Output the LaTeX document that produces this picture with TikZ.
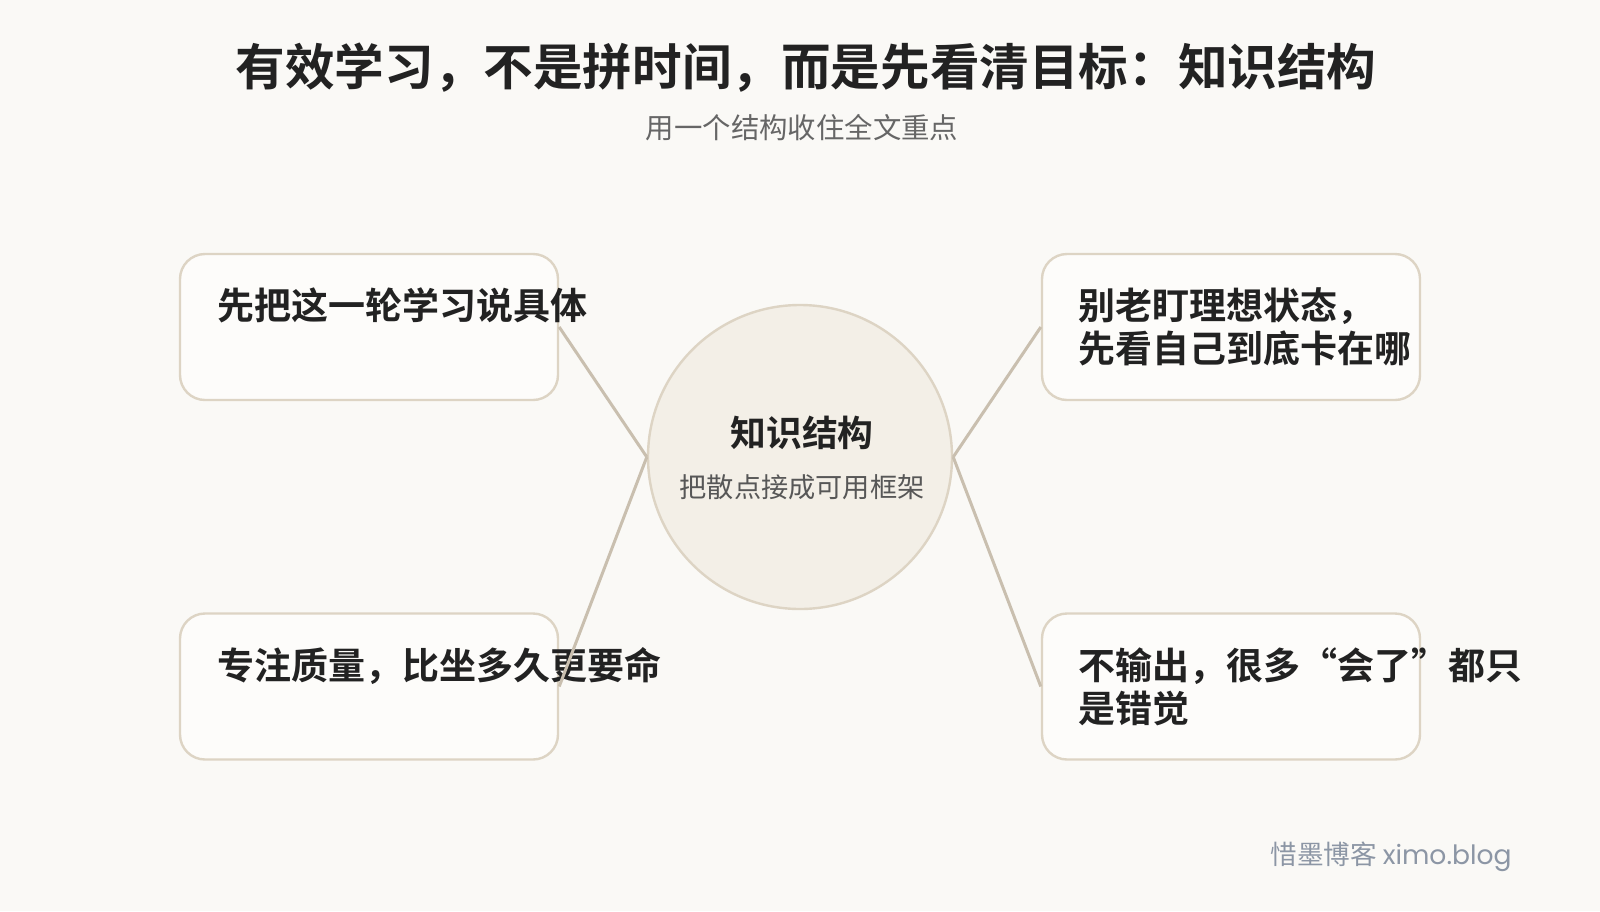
\documentclass[tikz,border=0pt]{standalone}
\usepackage{fontspec}
\setmainfont{Noto Sans CJK SC}[BoldFont={Noto Sans CJK SC Bold}]
\newfontfamily\latinfont{Poppins}
\usetikzlibrary{positioning}
\definecolor{paper}{HTML}{FAF9F6}
\definecolor{boxfill}{HTML}{FDFCFA}
\definecolor{boxline}{HTML}{DDD4C4}
\definecolor{hubfill}{HTML}{F3EFE7}
\definecolor{linkcol}{HTML}{C9BFAF}
\definecolor{ink}{HTML}{222222}
\definecolor{subink}{HTML}{666666}
\definecolor{markink}{HTML}{8C96A5}

\begin{document}
\begin{tikzpicture}[
  x=0.5pt, y=-0.5pt,
  box/.style={rectangle, rounded corners=12.5pt, draw=boxline, fill=boxfill, line width=1.2pt, minimum width=189pt, minimum height=73pt, inner sep=0pt},
  hub/.style={circle, draw=boxline, fill=hubfill, line width=1.2pt, minimum size=152pt, inner sep=0pt},
  point/.style={anchor=base west, inner sep=0pt, align=left, text=ink, font=\bfseries\fontsize{18.5}{21.5}\selectfont},
  link/.style={draw=linkcol, line width=1.5pt}
]

\fill[paper] (0,0) rectangle (1600,911);
\useasboundingbox (0,0) rectangle (1600,911);

% titles
\node[inner sep=0pt, text=ink, font=\bfseries\fontsize{24.8}{30}\selectfont] (title) at (806,68) {有效学习，不是拼时间，而是先看清目标：知识结构};
\node[inner sep=0pt, text=subink, font=\fontsize{14.2}{17}\selectfont] (subtitle) at (802,128) {用一个结构收住全文重点};

% boxes and hub
\node[box] (b1) at (369,327) {};
\node[box] (b2) at (369,686.5) {};
\node[box] (b3) at (1231,327) {};
\node[box] (b4) at (1231,686.5) {};
\node[hub] (hub) at (800,457) {};

\node[inner sep=0pt, text=ink, font=\bfseries\fontsize{17.9}{21}\selectfont] (hubtitle) at (802,433) {知识结构};
\node[inner sep=0pt, text=subink!85!black, font=\fontsize{13.6}{16}\selectfont] (hubsub) at (802,487) {把散点接成可用框架};

% base of a two-line node is its last line
\node[point] (t1) at (217,319) {先把这一轮学习说具体};
\node[point] (t2) at (217,679) {专注质量，比坐多久更要命};
\node[point] (t3) at (1078,362) {别老盯理想状态，\\先看自己到底卡在哪};
\node[point] (t4) at (1078,722) {不输出，很多“会了”都只\\是错觉};

\draw[link] (b1.east) -- (hub.west);
\draw[link] (b2.east) -- (hub.west);
\draw[link] (hub.east) -- (b3.west);
\draw[link] (hub.east) -- (b4.west);

\node[anchor=east, inner sep=0pt, text=markink, font=\fontsize{13.3}{16}\selectfont] (mark) at (1512,857) {惜墨博客 {\latinfont ximo.blog}};

\end{tikzpicture}
\end{document}
